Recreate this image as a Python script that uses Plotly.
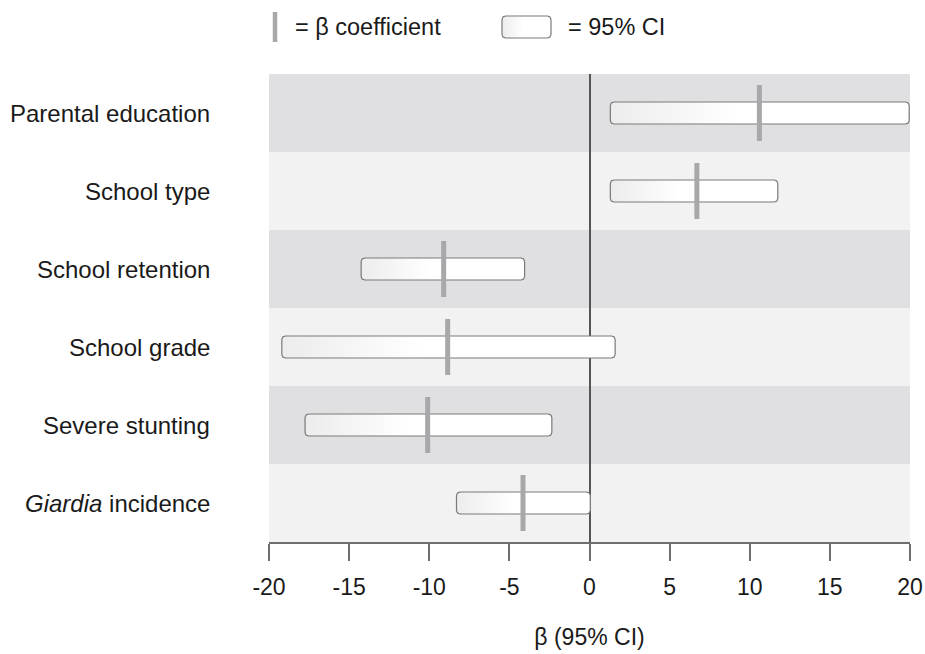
import numpy as np
import plotly.graph_objects as go

# ---------------- data ----------------
categories = ["Parental education", "School type", "School retention",
              "School grade", "Severe stunting", "<i>Giardia</i> incidence"]
beta = [10.6, 6.7, -9.1, -8.85, -10.1, -4.15]
ci_low = [1.3, 1.3, -14.25, -19.2, -17.75, -8.3]
ci_high = [19.95, 11.75, -4.05, 1.6, -2.35, 0.05]
x_ticks = [-20, -15, -10, -5, 0, 5, 10, 15, 20]

# ---------------- geometry helpers ----------------
FIG_W, FIG_H = 925, 654
M_L, M_R = 269, FIG_W - 910
M_T = 0
M_B = FIG_H - 542
PLOT_W = FIG_W - M_L - M_R
PLOT_H = FIG_H - M_T - M_B


def px_x(p):
    return (p - M_L) / PLOT_W


def px_y(q):
    return (PLOT_H - q) / PLOT_H


def rounded_rect(x0, x1, y0, y1, rx, ry, n=10):
    xs, ys = [], []
    corners = [(x1 - rx, y1 - ry, 0), (x0 + rx, y1 - ry, 90),
               (x0 + rx, y0 + ry, 180), (x1 - rx, y0 + ry, 270)]
    for cx, cy, a0 in corners:
        t = np.radians(np.linspace(a0, a0 + 90, n))
        xs.extend(cx + rx * np.cos(t))
        ys.extend(cy + ry * np.sin(t))
    xs.append(xs[0])
    ys.append(ys[0])
    return xs, ys


n = len(categories)
ypos = [n - 1 - i for i in range(n)]
row_px = (542 - 74) / n
unit_px = PLOT_W / 40.0
half_h = 11 / row_px
rx = 3.5 / unit_px
ry = 3.5 / row_px

grad = [[0, "#ececed"], [0.42, "#ffffff"], [1, "#ffffff"]]
box_line = dict(color="#7a7a7a", width=1.2)
coef_color = "#a8a8ab"
text_color = "#1a1a1a"
FONT = "Liberation Sans, Arial, Helvetica, sans-serif"

fig = go.Figure()

for lo, hi, y in zip(ci_low, ci_high, ypos):
    xs, ys = rounded_rect(lo, hi, y - half_h, y + half_h, rx, ry)
    fig.add_trace(go.Scatter(
        x=xs, y=ys, mode="lines", fill="toself",
        fillgradient=dict(type="horizontal", colorscale=grad),
        line=box_line, hoverinfo="skip", showlegend=False))

fig.add_trace(go.Scatter(
    x=beta, y=ypos, mode="markers",
    marker=dict(symbol="line-ns", size=40,
                line=dict(color=coef_color, width=5)),
    hoverinfo="x", showlegend=False))

# legend box (gradient) on its own little axes (units = pixels)
lx, ly = rounded_rect(2, 51, 2, 24, 3.5, 3.5)
fig.add_trace(go.Scatter(
    x=lx, y=ly, mode="lines", fill="toself",
    fillgradient=dict(type="horizontal", colorscale=grad),
    line=box_line, hoverinfo="skip", showlegend=False,
    xaxis="x2", yaxis="y2"))

# ---------------- background bands ----------------
shapes = []
for i, y in enumerate(ypos):
    shapes.append(dict(
        type="rect", xref="x domain", yref="y",
        x0=0, x1=1, y0=y - 0.5, y1=y + 0.5,
        fillcolor="#e0e0e2" if i % 2 == 0 else "#f2f2f2",
        line=dict(width=0), layer="below"))

# legend bar
shapes.append(dict(type="line", xref="paper", yref="paper",
                   x0=px_x(275), x1=px_x(275), y0=px_y(12), y1=px_y(42),
                   line=dict(color=coef_color, width=4.5)))

annotations = []
for cat, y in zip(categories, ypos):
    annotations.append(dict(
        text=cat, x=0, xref="paper", y=y, yref="y",
        xanchor="right", yanchor="middle", xshift=-57, showarrow=False,
        font=dict(size=24, color=text_color, family=FONT)))

annotations.append(dict(text="= β coefficient", x=px_x(293), y=px_y(27),
                        xref="paper", yref="paper", xanchor="left",
                        yanchor="middle", showarrow=False,
                        font=dict(size=23.5, color=text_color, family=FONT)))
annotations.append(dict(text="= 95% CI", x=px_x(566), y=px_y(27),
                        xref="paper", yref="paper", xanchor="left",
                        yanchor="middle", showarrow=False,
                        font=dict(size=23.5, color=text_color, family=FONT)))

fig.update_layout(
    width=FIG_W, height=FIG_H,
    margin=dict(l=M_L, r=M_R, t=M_T, b=M_B, pad=0),
    paper_bgcolor="white", plot_bgcolor="white",
    font=dict(family=FONT, size=23, color=text_color),
    showlegend=False,
    shapes=shapes, annotations=annotations,
    xaxis=dict(range=[-20, 20], tickvals=x_ticks,
               ticktext=[str(t) for t in x_ticks],
               ticks="outside", ticklen=17, tickwidth=2,
               tickcolor="#6e6e6e", showline=True, linecolor="#6e6e6e",
               linewidth=2, showgrid=False, zeroline=True,
               zerolinecolor="#555555", zerolinewidth=2,
               ticklabelstandoff=6, ticklabeloverflow="allow",
               tickfont=dict(size=23, color=text_color, family=FONT),
               title=dict(text="β (95% CI)", standoff=30,
                          font=dict(size=23, color=text_color, family=FONT)),
               fixedrange=True),
    yaxis=dict(range=[-0.5, n - 0.5], domain=[0, px_y(74)],
               showticklabels=False, ticks="", showgrid=False,
               zeroline=False, showline=False, fixedrange=True),
    xaxis2=dict(domain=[px_x(500), px_x(553)], range=[0, 53],
                anchor="y2", visible=False, fixedrange=True),
    yaxis2=dict(domain=[px_y(40), px_y(14)], range=[0, 26],
                anchor="x2", visible=False, fixedrange=True),
)

fig.write_html(
    "out.html",
    config={"displayModeBar": False, "staticPlot": True},
    post_script="document.body.style.margin='0px';"
                "document.body.style.overflow='hidden';",
)
